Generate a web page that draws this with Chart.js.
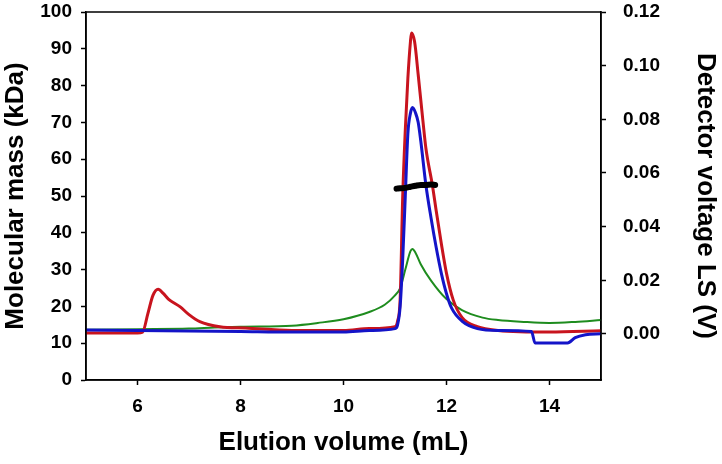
<!DOCTYPE html>
<html>
<head>
<meta charset="utf-8">
<script src="https://cdn.jsdelivr.net/npm/chart.js@4"></script>
<style>
  html, body { margin: 0; padding: 0; background: #fff; }
  #wrap { width: 722px; height: 464px; }
</style>
</head>
<body>
<div id="wrap"><canvas id="chart__elution" width="722" height="464"></canvas></div>
<script>
"use strict"

// elution volumes (mL) and detector signals (V)
const redVol = [5, 6.0, 6.1, 6.2, 6.3, 6.4, 6.5, 6.6, 6.83, 7.0, 7.21, 7.6, 8.1, 9, 10, 10.5, 11, 11.05, 11.1, 11.15, 11.2, 11.25, 11.3, 11.32, 11.38, 11.45, 11.54, 11.6, 11.73, 11.8, 11.9, 12, 12.13, 12.3, 12.6, 13, 14, 15];
const redV = [0.0004, 0.0004, 0.0007, 0.0075, 0.0144, 0.0167, 0.0151, 0.0130, 0.0101, 0.0072, 0.0046, 0.0027, 0.0022, 0.0013, 0.0013, 0.0020, 0.0027, 0.0048, 0.0130, 0.0514, 0.0761, 0.0953, 0.1090, 0.1122, 0.1090, 0.0967, 0.0798, 0.0692, 0.0550, 0.0459, 0.0336, 0.0226, 0.0127, 0.0062, 0.0027, 0.0013, 0.0007, 0.0012];

const blueVol = [5, 6, 8, 9, 10, 10.5, 11, 11.05, 11.1, 11.15, 11.2, 11.25, 11.3, 11.34, 11.4, 11.45, 11.5, 11.6, 11.7, 11.8, 11.9, 12, 12.1, 12.3, 12.6, 13, 13.65, 13.72, 14.35, 14.5, 14.7, 15];
const blueV = [0.0015, 0.0013, 0.0009, 0.0007, 0.0007, 0.0013, 0.0020, 0.0034, 0.0103, 0.0281, 0.0514, 0.0747, 0.0823, 0.0844, 0.0823, 0.0789, 0.0720, 0.0555, 0.0432, 0.0322, 0.0226, 0.0150, 0.0096, 0.0048, 0.0020, 0.0013, 0.0009, -0.0034, -0.0034, -0.0014, -0.0003, 0.0001];

const greenVol = [5, 6, 7, 7.5, 8, 9, 9.5, 10, 10.5, 10.8, 11, 11.1, 11.2, 11.3, 11.34, 11.4, 11.5, 11.7, 12, 12.3, 12.7, 13, 13.5, 14, 14.5, 15];
const greenV = [0.0016, 0.0018, 0.0020, 0.0024, 0.0027, 0.0031, 0.0041, 0.0055, 0.0082, 0.0109, 0.0144, 0.0171, 0.0240, 0.0309, 0.0317, 0.0302, 0.0260, 0.0199, 0.0130, 0.0089, 0.0061, 0.0052, 0.0045, 0.0041, 0.0045, 0.0052];

// molecular mass (kDa) across the main peak
const massVol = [11.03, 11.1, 11.2, 11.3, 11.4, 11.5, 11.6, 11.7, 11.78];
const massKDa = [52.0, 52.1, 52.2, 52.5, 52.8, 53.0, 53.0, 53.1, 53.0];

// tick labels
const xTicks = [6, 8, 10, 12, 14];
const yTicksLeft = [0, 10, 20, 30, 40, 50, 60, 70, 80, 90, 100];
const yTicksRight = [0, 0.02, 0.04, 0.06, 0.08, 0.10, 0.12];

function toPoints(arrX, arrY){
    return arrX.map(function(x, i){ return {x: x, y: arrY[i]}; });
}

// vertical axes: keep the fixed width and drop the label overflow padding
function fitVertical(intWidth){
    return function(axis){
        axis.width = intWidth;
        axis.paddingTop = 0;
        axis.paddingBottom = 0;
    };
}

const FONT = "'Liberation Sans', Arial, sans-serif";
const tickFont = {family: FONT, size: 19, weight: "bold"};
const titleFont = {family: FONT, size: 26, weight: "bold"};

// closes the frame round the plot area
const frameBox = {
    id: "frameBox",
    afterDatasetsDraw: function(chart){
        const a = chart.chartArea;
        const ctx = chart.ctx;
        ctx.save();
        ctx.strokeStyle = "#000";
        ctx.lineWidth = 1.5;
        ctx.strokeRect(a.left, a.top, a.right - a.left, a.bottom - a.top);
        ctx.restore();
    }
};

const chart = new Chart("chart__elution", {
    type: "line",
    data: {
        datasets: [
            {
                label: "Molecular mass",
                data: toPoints(massVol, massKDa),
                yAxisID: "y",
                borderColor: "#000000",
                borderWidth: 6,
                borderCapStyle: "round",
                pointRadius: 0,
                cubicInterpolationMode: "monotone"
            },
            {
                label: "Blue",
                data: toPoints(blueVol, blueV),
                yAxisID: "y2",
                borderColor: "#1414c8",
                borderWidth: 3,
                pointRadius: 0,
                cubicInterpolationMode: "monotone"
            },
            {
                label: "Red",
                data: toPoints(redVol, redV),
                yAxisID: "y2",
                borderColor: "#c8141e",
                borderWidth: 3,
                pointRadius: 0,
                cubicInterpolationMode: "monotone"
            },
            {
                label: "Green",
                data: toPoints(greenVol, greenV),
                yAxisID: "y2",
                borderColor: "#1e8c1e",
                borderWidth: 2,
                pointRadius: 0,
                cubicInterpolationMode: "monotone"
            }
        ]
    },
    options: {
        responsive: false,
        animation: false,
        events: [],
        layout: {padding: {top: 12, left: 0, right: 0, bottom: 0}},
        plugins: {
            legend: {display: false},
            tooltip: {enabled: false}
        },
        scales: {
            x: {
                type: "linear",
                min: 5,
                max: 15,
                afterBuildTicks: function(axis){
                    axis.ticks = xTicks.map(function(v){ return {value: v}; });
                },
                afterFit: function(axis){ axis.height = 84; },
                grid: {drawOnChartArea: false, tickLength: 5, color: "#000", tickWidth: 1.5},
                border: {color: "#000", width: 1.5},
                ticks: {color: "#000", font: tickFont, padding: 10},
                title: {display: true, text: "Elution volume (mL)", color: "#000", font: titleFont, padding: {top: 0, bottom: 6}}
            },
            y: {
                position: "left",
                min: 0,
                max: 100,
                afterBuildTicks: function(axis){
                    axis.ticks = yTicksLeft.map(function(v){ return {value: v}; });
                },
                afterFit: fitVertical(86),
                grid: {drawOnChartArea: false, tickLength: 5, color: "#000", tickWidth: 1.5},
                border: {color: "#000", width: 1.5},
                ticks: {color: "#000", font: tickFont, padding: 9},
                title: {display: true, text: "Molecular mass (kDa)", color: "#000", font: titleFont, padding: {top: 0, bottom: 0}}
            },
            y2: {
                position: "right",
                min: -0.01716,
                max: 0.12,
                afterBuildTicks: function(axis){
                    axis.ticks = yTicksRight.map(function(v){ return {value: v}; });
                },
                afterFit: fitVertical(121),
                grid: {drawOnChartArea: false, tickLength: 5, color: "#000", tickWidth: 1.5},
                border: {color: "#000", width: 1.5},
                ticks: {
                    color: "#000",
                    font: tickFont,
                    padding: 17,
                    callback: function(v){ return Number(v).toFixed(2); }
                },
                title: {display: true, text: "Detector voltage LS (V)", color: "#000", font: titleFont, padding: {top: 1, bottom: 1}}
            }
        }
    },
    plugins: [frameBox]
});
</script>
</body>
</html>
